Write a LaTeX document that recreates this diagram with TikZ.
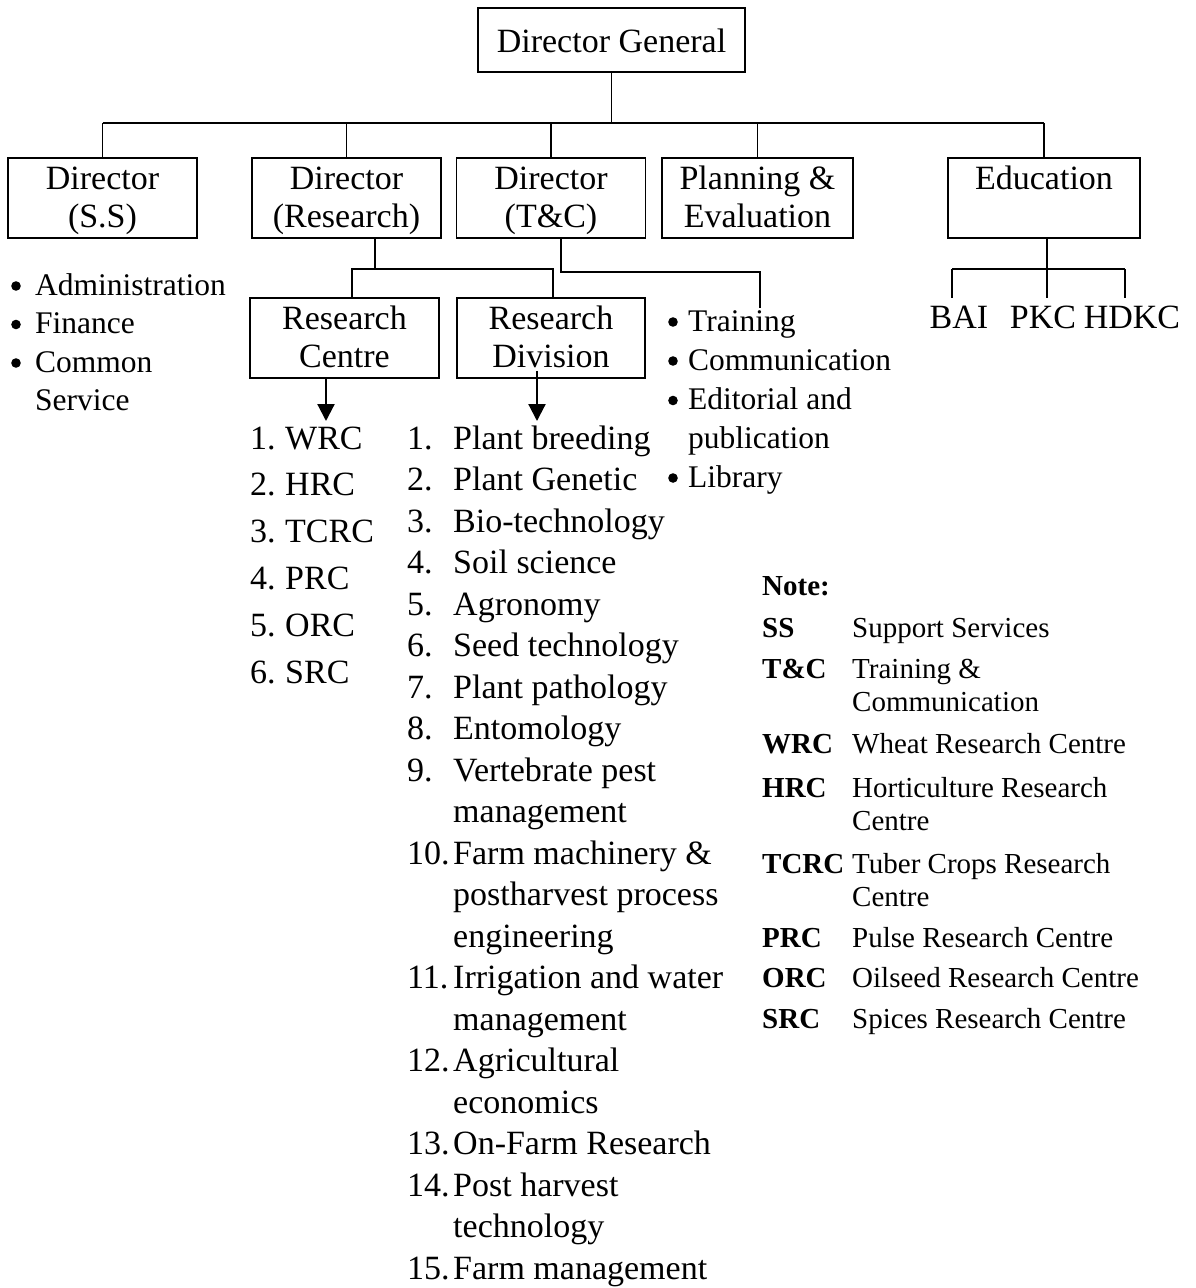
\documentclass[tikz,border=0pt]{standalone}
\usepackage{fontspec}
\setmainfont{Liberation Serif}
\usetikzlibrary{arrows.meta,calc}
\newcommand\orgfont{\fontsize{34}{38}\selectfont}
\newcommand\divfont{\fontsize{34}{41.5}\selectfont}
\newcommand\bulfont{\fontsize{31.5}{38.5}\selectfont}
\newcommand\notefont{\fontsize{29}{33}\selectfont}
% lines stacked below a first baseline
\newcommand\stack[1]{\begin{tabular}[t]{@{}l@{}}#1\end{tabular}}
\begin{document}
\begin{tikzpicture}[x=1pt,y=-1pt,
  link/.style={line width=1.8pt},
  box/.style={draw,line width=1.8pt,align=center,inner sep=0pt,font=\orgfont},
  unitbox/.style={box,minimum width=189,minimum height=80,text height=64pt,text depth=6pt},
  arr/.style={line width=2.2pt,-{Triangle[length=17pt,width=17pt]}},
  item/.style={anchor=base west,inner sep=0pt},
  lbl/.style={anchor=base,inner sep=0pt,font=\orgfont},
  bul/.style={radius=4.8pt}
]
\useasboundingbox (0,0) rectangle (1196,1288);

% --- boxes ---
\node[box,minimum width=267,minimum height=64,text height=24pt,text depth=0pt] (dg) at (611.5,40) {Director General};
\node[unitbox] (ss)  at (102.5,198) {Director\\(S.S)};
\node[unitbox] (dr)  at (346.5,198) {Director\\(Research)};
\node[unitbox] (tc)  at (551,198)   {Director\\(T\&C)};
\node[unitbox,minimum width=191] (pe) at (757.5,198) {Planning \&\\Evaluation};
\node[unitbox,minimum width=192] (edu) at (1044,198) {Education\\\phantom{(S.S)}};
\node[unitbox] (rc)  at (344.5,338) {Research\\Centre};
\node[unitbox,minimum width=188] (rd) at (551,338) {Research\\Division};

% --- top level bus ---
\coordinate (bus) at (0,123);
\draw[link] (dg.south) -- (dg.south |- bus);
\draw[link] (ss.north |- bus) -- (edu.north |- bus);
\foreach \b in {ss,dr,tc,pe,edu} \draw[link] (\b.north |- bus) -- (\b.north);

% --- research branch ---
\coordinate (rjoin) at (375,269);
\coordinate (rcdrop) at (352,269);
\coordinate (rddrop) at (553,269);
\draw[link] (rjoin |- dr.south) -- (rjoin);
\draw[link] (rcdrop |- rc.north) -- (rcdrop) -- (rddrop) -- (rddrop |- rd.north);

% --- training & communication branch ---
\coordinate (tcbend) at (561,272);
\coordinate (tcturn) at (760,272);
\coordinate (tcend) at (760,308);
\draw[link] (tcbend |- tc.south) -- (tcbend) -- (tcturn) -- (tcend);

% --- education branch ---
\coordinate (eduj) at (1047,269);
\coordinate (ebl) at (952,269);
\coordinate (ebr) at (1125,269);
\node[lbl] (bai)  at (959,328)  {BAI};
\node[lbl] (pkc)  at (1043,328) {PKC};
\node[lbl] (hdkc) at (1132,328) {HDKC};
\draw[link] (eduj |- edu.south) -- (eduj);
\draw[link] (ebl) -- (ebr);
\draw[link] (ebl) -- (952,298);
\draw[link] (eduj) -- (1047,298);
\draw[link] (ebr) -- (1125,298);

% --- arrows to lists ---
\coordinate (rctip) at (326,421);
\coordinate (rdtip) at (537,421);
\draw[arr] (rctip |- rc.south) -- (rctip);
\draw[arr] ($(rdtip |- rd.south)+(0,-8)$) -- (rdtip);

% --- support services list ---
\node[item,font=\bulfont] (ssa) at (35,295) {Administration};
\node[item,font=\bulfont] (ssb) at (35,333.5) {Finance};
\node[item,font=\bulfont] (ssc) at (35,372) {\stack{Common\\Service}};
\foreach \y in {295,333.5,372} \fill (16,\y-9) circle[bul];

% --- training & communication list ---
\node[item,font=\bulfont] (tca) at (688,331) {Training};
\node[item,font=\bulfont] (tcb) at (688,370) {Communication};
\node[item,font=\bulfont] (tcc) at (688,409.5) {\stack{Editorial and\\publication}};
\node[item,font=\bulfont] (tcd) at (688,487) {Library};
\foreach \y in {331,370,409.5,487} \fill (673,\y-9) circle[bul];

% --- research centres ---
\foreach \n/\t [count=\k from 0] in {1/WRC,2/HRC,3/TCRC,4/PRC,5/ORC,6/SRC} {
  \node[item,font=\orgfont] (rcnum\n) at (250,449+46.8*\k) {\n.};
  \node[item,font=\orgfont] (rcname\n) at (285,449+46.8*\k) {\t};
}

% --- research divisions ---
\foreach \n/\l/\t in {
  1/0/{Plant breeding},
  2/1/{Plant Genetic},
  3/2/{Bio-technology},
  4/3/{Soil science},
  5/4/{Agronomy},
  6/5/{Seed technology},
  7/6/{Plant pathology},
  8/7/{Entomology},
  9/8/{Vertebrate pest\\management},
  10/10/{Farm machinery \&\\postharvest process\\engineering},
  11/13/{Irrigation and water\\management},
  12/15/{Agricultural\\economics},
  13/17/{On-Farm Research},
  14/18/{Post harvest\\technology},
  15/20/{Farm management}} {
  \node[item,font=\divfont] (rdnum\n) at (407,449+41.5*\l) {\n.};
  \node[item,font=\divfont] (rdname\n) at (453,449+41.5*\l) {\stack{\t}};
}

% --- abbreviations ---
\node[item,font=\notefont\bfseries] (notehead) at (762,595) {Note:};
\foreach \a/\y/\t [count=\k] in {
  SS/637/{Support Services},
  T\&C/678/{Training \&\\Communication},
  WRC/753/{Wheat Research Centre},
  HRC/797/{Horticulture Research\\Centre},
  TCRC/873/{Tuber Crops Research\\Centre},
  PRC/947/{Pulse Research Centre},
  ORC/987/{Oilseed Research Centre},
  SRC/1028/{Spices Research Centre}} {
  \node[item,font=\notefont\bfseries] (abbr\k) at (762,\y) {\a};
  \node[item,font=\notefont] (meaning\k) at (852,\y) {\stack{\t}};
}
\end{tikzpicture}
\end{document}
